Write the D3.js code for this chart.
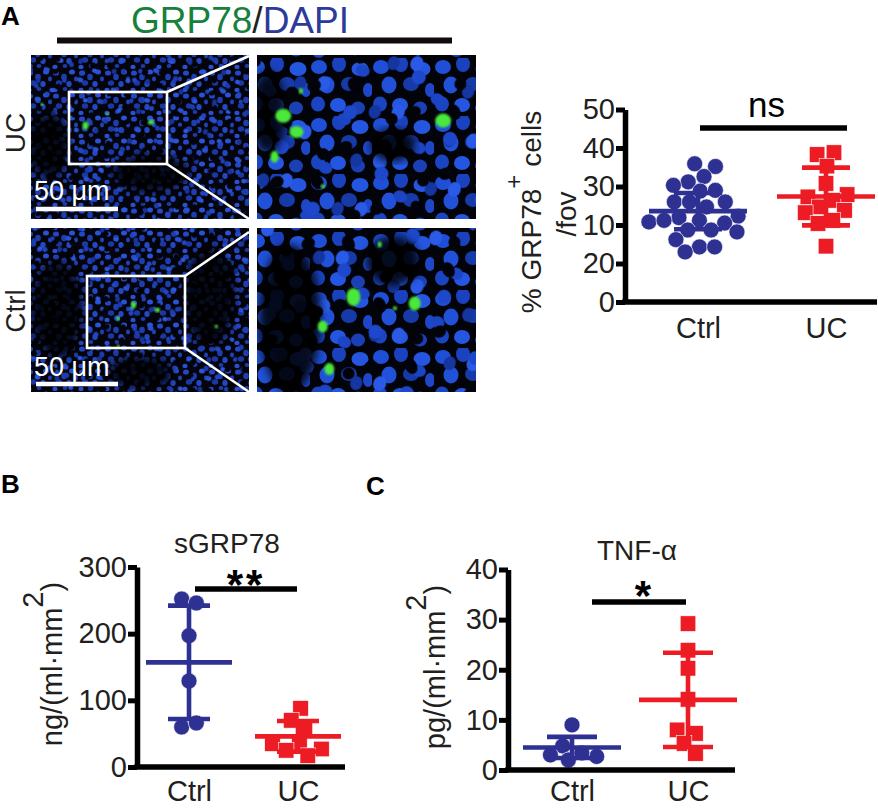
<!DOCTYPE html>
<html>
<head>
<meta charset="utf-8">
<script src="https://cdn.jsdelivr.net/npm/d3@7"></script>
<style>
  body { margin: 0; background: #fff; }
  svg { display: block; }
</style>
</head>
<body>
<div id="container"></div>
<script>
(function() {

// ---- values ----
const groups = ["Ctrl", "UC"];

// A: % GRP78+ cells / fov (axis labels kept as printed)
const fovTicks = [0, 10, 20, 30, 40, 50];
const fovTickLabels = ["0", "20", "10", "30", "40", "50"];
const fovCtrl = [35.2, 35.9, 32.6, 31.2, 30.3, 28.8, 29.0, 26.0, 24.7, 26.0, 26.0, 21.9,
                 22.3, 21.2, 20.5, 20.8, 21.2, 18.7, 18.2, 18.7, 16.2, 14.3, 13.0, 14.3];
const fovUC = [38.3, 38.8, 35.3, 30.8, 27.9, 26.4, 27.3, 24.7, 23.8, 23.2, 21.2, 20.4, 14.5];
const fovMean = [23.6, 27.4];
const fovSD = [4.7, 7.5];

// B: sGRP78, ng/(ml·mm2)
const sgrpTicks = [0, 100, 200, 300];
const sgrpCtrl = [252, 246, 197, 129, 60, 66];
const sgrpUC = [88, 70, 60, 36, 35, 27, 25, 17];
const sgrpMean = [157, 46];
const sgrpSD = [85, 23];

// C: TNF-α, pg/(ml·mm2)
const tnfTicks = [0, 10, 20, 30, 40];
const tnfCtrl = [4.8, 9.0, 3.0, 2.0, 2.7, 3.4];
const tnfUC = [29.2, 23.9, 20.3, 14.1, 8.0, 7.3, 5.3, 3.3];
const tnfMean = [4.5, 14.0];
const tnfSD = [2.1, 9.4];

const colors = { Ctrl: "#2e3192", UC: "#ed1c24" };
const FONT = "'Liberation Sans', Arial, Helvetica, sans-serif";
const INK = "#231f20";

let svg = d3.select("#container").append("svg")
  .attr("width", 878)
  .attr("height", 808)
  .attr("font-family", FONT);
let defs = svg.append("defs");

// ---- panel A micrographs (decorative texture only) ----
const smallTile = [
  [4, 4, 3, 2.6, "#2447c9"], [12, 8, 2.8, 3.2, "#1d3db0"], [20, 3, 3, 2.5, "#2a52d6"],
  [7, 14, 3.2, 2.7, "#1a37a3"], [17, 15, 2.7, 3, "#2348c4"], [24, 10, 2, 2.4, "#1f42b8"],
  [3, 21, 2.6, 2.2, "#2a4fd0"], [13, 20, 2.4, 2, "#1c3aa8"]
];
const smallTile2 = [
  [6, 9, 2.6, 2.2, "#2b56de"], [25, 4, 2.4, 2.8, "#17339a"], [30, 22, 3, 2.4, "#2950d2"],
  [15, 27, 2.2, 2.6, "#1e40b6"]
];
const smallTile3 = [
  [5, 5, 3.2, 2.4, "#02020a"], [19, 14, 2.8, 3, "#03030c"], [33, 6, 2.5, 2.5, "#2146c4"],
  [11, 24, 3, 2.4, "#02020a"], [28, 26, 2.4, 2.8, "#1b3cae"]
];
const largeTile = [
  [9, 9, 8, 7, "#1f4fd6"], [29, 6, 7, 8, "#1a42bf"], [50, 11, 8.5, 7, "#2456e0"],
  [17, 27, 7.5, 8.5, "#2151d8"], [39, 26, 8, 7, "#163aa8"], [58, 32, 5, 7, "#1d47c8"],
  [8, 46, 7, 7.5, "#1a44c2"], [28, 47, 8, 7, "#2556e2"], [48, 50, 7, 6.5, "#1b3fb4"]
];
const largeTile2 = [
  [12, 14, 6.5, 7.5, "#2a5ae6"], [44, 40, 7, 6, "#1c45c6"], [70, 22, 6, 7, "#1536a0"]
];
const largeTile3 = [
  [10, 12, 7, 6, "#03030a"], [46, 30, 6, 8, "#02020a"], [30, 52, 7, 7, "#1e48cc"],
  [64, 8, 6, 6, "#03030a"]
];

function makePattern(id, w, h, cells, bg, rot) {
  let p = defs.append("pattern")
    .attr("id", id)
    .attr("patternUnits", "userSpaceOnUse")
    .attr("width", w)
    .attr("height", h);
  if (rot) p.attr("patternTransform", "rotate(" + rot + ")");
  if (bg) p.append("rect").attr("width", w).attr("height", h).attr("fill", bg);
  p.selectAll("ellipse").data(cells).enter().append("ellipse")
    .attr("cx", (d) => d[0]).attr("cy", (d) => d[1])
    .attr("rx", (d) => d[2]).attr("ry", (d) => d[3])
    .attr("fill", (d) => d[4]);
}
makePattern("nucSmall", 26, 23, smallTile, "#04040c");
makePattern("nucSmall2", 35, 31, smallTile2, null, 17);
makePattern("nucSmall3", 41, 33, smallTile3, null, -31);
makePattern("nucLarge", 62, 58, largeTile, "#03030a");
makePattern("nucLarge2", 80, 52, largeTile2, null, 21);
makePattern("nucLarge3", 77, 69, largeTile3, null, -27);

defs.append("filter").attr("id", "soft")
  .append("feGaussianBlur").attr("stdDeviation", 4);
defs.append("filter").attr("id", "glow")
  .append("feGaussianBlur").attr("stdDeviation", 1.2);

const images = [
  { id: "ucL", x: 31, y: 55, w: 218, h: 164, fine: true },
  { id: "ucR", x: 257, y: 55, w: 219, h: 164, fine: false },
  { id: "ctL", x: 31, y: 228, w: 218, h: 164, fine: true },
  { id: "ctR", x: 257, y: 228, w: 219, h: 164, fine: false }
];
// dark lumen areas and GRP78+ (green) cells, as fractions of each image
const darkAreas = {
  ucL: [[0.08, 0.55, 0.1, 0.2], [0.55, 0.72, 0.18, 0.12]],
  ucR: [[0.05, 0.35, 0.08, 0.25], [0.62, 0.55, 0.1, 0.1]],
  ctL: [[0.12, 0.5, 0.12, 0.3], [0.82, 0.42, 0.12, 0.3], [0.5, 0.88, 0.15, 0.1]],
  ctR: [[0.15, 0.55, 0.14, 0.45], [0.62, 0.2, 0.12, 0.15]]
};
const greenCells = {
  ucL: [[0.25, 0.43, 3, 4], [0.55, 0.41, 3, 2.5], [0.35, 0.36, 1.5, 1.5], [0.05, 0.3, 1.5, 1.5]],
  ucR: [[0.12, 0.37, 8, 7], [0.18, 0.47, 7, 6], [0.85, 0.4, 8, 7], [0.2, 0.22, 2, 3], [0.08, 0.62, 4, 6], [0.3, 0.8, 2, 2]],
  ctL: [[0.47, 0.47, 2.5, 3.5], [0.58, 0.5, 2.5, 2.5], [0.4, 0.55, 1.5, 2.5], [0.4, 0.72, 1.5, 1.5], [0.85, 0.6, 1.5, 2]],
  ctR: [[0.44, 0.42, 7, 9], [0.72, 0.46, 6, 7], [0.3, 0.6, 5, 6], [0.33, 0.86, 5, 6], [0.56, 0.1, 2, 3], [0.63, 0.49, 2, 2]]
};

images.forEach((im) => {
  defs.append("clipPath").attr("id", "clip-" + im.id)
    .append("rect").attr("x", im.x).attr("y", im.y).attr("width", im.w).attr("height", im.h);
  let g = svg.append("g").attr("clip-path", "url(#clip-" + im.id + ")");
  let fills = im.fine ? ["nucSmall", "nucSmall2", "nucSmall3"] : ["nucLarge", "nucLarge2", "nucLarge3"];
  fills.forEach((f) => {
    g.append("rect").attr("x", im.x).attr("y", im.y).attr("width", im.w).attr("height", im.h)
      .attr("fill", "url(#" + f + ")");
  });
  g.selectAll(".dark").data(darkAreas[im.id]).enter().append("ellipse")
    .attr("cx", (d) => im.x + d[0] * im.w).attr("cy", (d) => im.y + d[1] * im.h)
    .attr("rx", (d) => d[2] * im.w).attr("ry", (d) => d[3] * im.h)
    .attr("fill", "#020205").attr("opacity", 0.85).attr("filter", "url(#soft)");
  g.selectAll(".green").data(greenCells[im.id]).enter().append("ellipse")
    .attr("cx", (d) => im.x + d[0] * im.w).attr("cy", (d) => im.y + d[1] * im.h)
    .attr("rx", (d) => d[2]).attr("ry", (d) => d[3])
    .attr("fill", "#48e83a").attr("filter", "url(#glow)");
});

// zoom boxes and connector lines
const zoomBoxes = [
  { x0: 69, y0: 92, x1: 167, y1: 164, tx: 249, ty0: 56, ty1: 219 },
  { x0: 87, y0: 276, x1: 185, y1: 348, tx: 249, ty0: 232, ty1: 392 }
];
zoomBoxes.forEach((b) => {
  svg.append("rect").attr("x", b.x0).attr("y", b.y0)
    .attr("width", b.x1 - b.x0).attr("height", b.y1 - b.y0)
    .attr("fill", "none").attr("stroke", "#fff").attr("stroke-width", 2.6);
  svg.append("line").attr("x1", b.x1).attr("y1", b.y0).attr("x2", b.tx).attr("y2", b.ty0)
    .attr("stroke", "#fff").attr("stroke-width", 2.6);
  svg.append("line").attr("x1", b.x1).attr("y1", b.y1).attr("x2", b.tx).attr("y2", b.ty1)
    .attr("stroke", "#fff").attr("stroke-width", 2.6);
});

// scale bars
[{ ty: 200, by: 209 }, { ty: 376, by: 384 }].forEach((s) => {
  svg.append("text").attr("x", 34).attr("y", s.ty).attr("fill", "#fff")
    .attr("font-size", 27).text("50 μm");
  svg.append("line").attr("x1", 36).attr("x2", 118).attr("y1", s.by).attr("y2", s.by)
    .attr("stroke", "#fff").attr("stroke-width", 4.5);
});

// row labels
[["UC", 133], ["Ctrl", 311]].forEach((r) => {
  svg.append("text")
    .attr("transform", "translate(25," + r[1] + ") rotate(-90)")
    .attr("text-anchor", "middle").attr("font-size", 28).attr("fill", INK)
    .text(r[0]);
});

// GRP78/DAPI header
let head = svg.append("text").attr("x", 240).attr("y", 33)
  .attr("text-anchor", "middle").attr("font-size", 37);
head.append("tspan").attr("fill", "#16803c").text("GRP78");
head.append("tspan").attr("fill", INK).text("/");
head.append("tspan").attr("fill", "#2b3a9b").text("DAPI");
svg.append("line").attr("x1", 57).attr("x2", 452).attr("y1", 40.5).attr("y2", 40.5)
  .attr("stroke", "#120b0c").attr("stroke-width", 6);

// panel letters
[["A", 1, 25], ["B", 1, 493], ["C", 366, 495]].forEach((p) => {
  svg.append("text").attr("x", p[1]).attr("y", p[2])
    .attr("font-size", 26).attr("font-weight", "bold").attr("fill", "#000").text(p[0]);
});

// ---- dot plots ----
function drawDotPlot(cfg) {
  let g = svg.append("g");
  let y = d3.scaleLinear().domain(cfg.yDomain).range(cfg.yRange);
  let x = d3.scalePoint().domain(groups).range(cfg.centers);
  let y0 = y(cfg.yDomain[0]);

  // points: y fixed at the value, x spread by collision (beeswarm)
  cfg.series.forEach((vals, gi) => {
    let grp = groups[gi];
    let nodes = vals.map((v) => ({ value: v, x: x(grp), y: y(v), fy: y(v) }));
    let sim = d3.forceSimulation(nodes)
      .force("x", d3.forceX(x(grp)).strength(0.15))
      .force("collide", d3.forceCollide(cfg.collide).iterations(3))
      .stop();
    for (let i = 0; i < 300; i++) sim.tick();

    if (grp === "Ctrl") {
      g.selectAll(".pt-ctrl").data(nodes).enter().append("circle")
        .attr("cx", (d) => d.x).attr("cy", (d) => d.fy).attr("r", 8)
        .attr("fill", colors[grp]).attr("stroke", "#fff").attr("stroke-width", 0.6);
    } else {
      g.selectAll(".pt-uc").data(nodes).enter().append("rect")
        .attr("x", (d) => d.x - 7.8).attr("y", (d) => d.fy - 7.8)
        .attr("width", 15.6).attr("height", 15.6)
        .attr("fill", colors[grp]).attr("stroke", "#fff").attr("stroke-width", 0.6);
    }
  });

  // mean ± SD
  groups.forEach((grp, gi) => {
    let cx = x(grp);
    let m = cfg.mean[gi], s = cfg.sd[gi];
    let lg = g.append("g").attr("stroke", colors[grp]).attr("stroke-width", 4.6);
    lg.append("line").attr("x1", cx - cfg.meanHalf).attr("x2", cx + cfg.meanHalf)
      .attr("y1", y(m)).attr("y2", y(m));
    lg.append("line").attr("x1", cx).attr("x2", cx)
      .attr("y1", y(m - s)).attr("y2", y(m + s));
    [m - s, m + s].forEach((v) => {
      lg.append("line").attr("x1", cx - cfg.capHalf).attr("x2", cx + cfg.capHalf)
        .attr("y1", y(v)).attr("y2", y(v));
    });
  });

  // axes
  let yAxis = d3.axisLeft(y).tickValues(cfg.ticks).tickSize(9).tickSizeOuter(0).tickPadding(1);
  if (cfg.tickLabels) yAxis.tickFormat((d, i) => cfg.tickLabels[i]);
  let ya = g.append("g").attr("transform", "translate(" + cfg.axisX + ",0)").call(yAxis)
    .attr("font-family", FONT).attr("font-size", 29);
  ya.select(".domain").attr("stroke", "#000").attr("stroke-width", 5.5);
  ya.selectAll(".tick line").attr("stroke", "#000").attr("stroke-width", 5);
  ya.selectAll(".tick text").attr("fill", INK);

  g.append("line").attr("x1", cfg.axisX - 2.75).attr("x2", cfg.right)
    .attr("y1", y0).attr("y2", y0).attr("stroke", "#000").attr("stroke-width", 5.5);

  let xa = g.append("g").attr("transform", "translate(0," + y0 + ")")
    .call(d3.axisBottom(x).tickSize(0).tickPadding(cfg.labelPad))
    .attr("font-family", FONT).attr("font-size", 29);
  xa.select(".domain").remove();
  xa.selectAll(".tick text").attr("fill", INK);

  // significance bar
  let sg = cfg.sig;
  g.append("line").attr("x1", sg.x0).attr("x2", sg.x1).attr("y1", sg.y).attr("y2", sg.y)
    .attr("stroke", "#000").attr("stroke-width", 5.5);
  g.append("text").attr("x", (sg.x0 + sg.x1) / 2 + sg.dx).attr("y", sg.ty)
    .attr("text-anchor", "middle").attr("font-size", sg.size)
    .attr("font-weight", sg.bold ? "bold" : "normal")
    .attr("letter-spacing", sg.spacing || 0)
    .attr("fill", "#000").text(sg.label);

  // title
  if (cfg.title) {
    g.append("text").attr("x", cfg.title.x).attr("y", cfg.title.y)
      .attr("text-anchor", "middle").attr("font-size", 28).attr("fill", INK)
      .text(cfg.title.text);
  }

  // y label with superscript
  let yl = cfg.ylabel;
  let t = g.append("text")
    .attr("transform", "translate(" + yl.x + "," + yl.y + ") rotate(-90)")
    .attr("text-anchor", "middle").attr("font-size", yl.size).attr("fill", INK);
  t.append("tspan").text(yl.pre);
  t.append("tspan").attr("dy", -yl.rise).attr("font-size", yl.supSize).text(yl.sup);
  t.append("tspan").attr("dy", yl.rise).text(yl.post);
  if (yl.line2) {
    g.append("text")
      .attr("transform", "translate(" + yl.line2.x + "," + yl.line2.y + ") rotate(-90)")
      .attr("text-anchor", "middle").attr("font-size", yl.size).attr("fill", INK)
      .text(yl.line2.text);
  }
}

drawDotPlot({
  yDomain: [0, 50], yRange: [302, 109.5], axisX: 625, right: 877, centers: [698, 826],
  ticks: fovTicks, tickLabels: fovTickLabels,
  series: [fovCtrl, fovUC], mean: fovMean, sd: fovSD,
  meanHalf: 49, capHalf: 24, collide: 7.6, labelPad: 15,
  sig: { x0: 700, x1: 847, y: 128, label: "ns", ty: 117, size: 35, dx: -7 },
  ylabel: { x: 541, y: 212, size: 28, pre: "% GRP78", sup: "+", supSize: 24, rise: 19,
            post: " cells", line2: { x: 576, y: 214, text: "/fov" } }
});

drawDotPlot({
  yDomain: [0, 300], yRange: [767, 567], axisX: 137, right: 345, centers: [189, 298],
  ticks: sgrpTicks,
  series: [sgrpCtrl, sgrpUC], mean: sgrpMean, sd: sgrpSD,
  meanHalf: 43, capHalf: 21, collide: 7.6, labelPad: 13,
  sig: { x0: 195, x1: 297, y: 589, label: "**", ty: 599, size: 42, bold: true, spacing: 3, dx: 0 },
  title: { x: 227, y: 553, text: "sGRP78" },
  ylabel: { x: 62, y: 664, size: 29, pre: "ng/(ml·mm", sup: "2", supSize: 29, rise: 19, post: ")" }
});

drawDotPlot({
  yDomain: [0, 40], yRange: [770, 569.5], axisX: 508, right: 735, centers: [572, 688],
  ticks: tnfTicks,
  series: [tnfCtrl, tnfUC], mean: tnfMean, sd: tnfSD,
  meanHalf: 49, capHalf: 25, collide: 7.6, labelPad: 10,
  sig: { x0: 592, x1: 686, y: 602, label: "*", ty: 610, size: 42, bold: true, dx: 4 },
  title: { x: 637, y: 560, text: "TNF-α" },
  ylabel: { x: 445, y: 667, size: 29, pre: "pg/(ml·mm", sup: "2", supSize: 29, rise: 19, post: ")" }
});

})();
</script>
</body>
</html>
